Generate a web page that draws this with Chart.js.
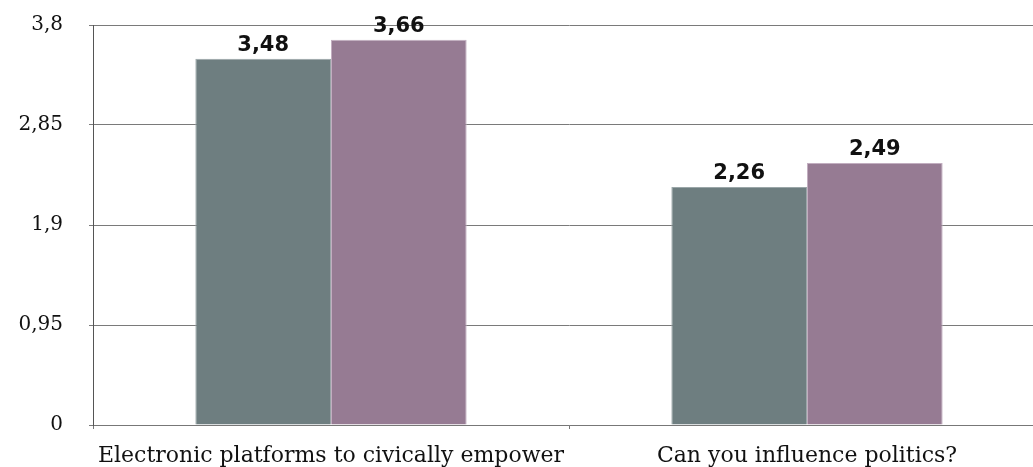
<!DOCTYPE html>
<html>
<head>
<meta charset="utf-8">
<script src="https://cdn.jsdelivr.net/npm/chart.js@4"></script>
<style>
	html, body { margin: 0; padding: 0; background: #fff; overflow: hidden; }
	#wrap { width: 1045px; height: 467px; }
</style>
</head>
<body>
<div id="wrap"><canvas id="bar"></canvas></div>
<script>
const categories = ["Electronic platforms to civically empower", "Can you influence politics?"];
const seriesA = [3.48, 2.26];
const seriesB = [3.66, 2.49];
const yTicks = [0, 0.95, 1.9, 2.85, 3.8];

const comma = (v) => String(v).replace(".", ",");

// value labels above each bar
const barLabels = {
	id: "barLabels",
	afterDatasetsDraw(chart) {
		const c = chart.ctx;
		c.save();
		c.font = "bold 21px 'DejaVu Sans'";
		c.fillStyle = "#111";
		c.textAlign = "center";
		c.textBaseline = "bottom";
		chart.data.datasets.forEach((ds, i) => {
			chart.getDatasetMeta(i).data.forEach((el, j) => {
				c.fillText(comma(ds.data[j]), el.x, el.y - 3);
			});
		});
		c.restore();
	},
};

const ctx2 = document.getElementById("bar").getContext("2d");
const bar = new Chart(ctx2, {
	type: "bar",
	data: {
		labels: categories,
		datasets: [
			{
				data: seriesA,
				backgroundColor: "#6e7e80",
				borderColor: "#9aa6a8",
				borderWidth: 1,
			},
			{
				data: seriesB,
				backgroundColor: "#967b93",
				borderColor: "#c2aec0",
				borderWidth: 1,
			},
		],
	},
	options: {
		responsive: true,
		maintainAspectRatio: false,
		animation: false,
		layout: { padding: { top: 25, right: 0, bottom: 0, left: 0 } },
		plugins: {
			legend: { display: false },
			tooltip: { enabled: false },
		},
		datasets: {
			bar: { categoryPercentage: 0.57, barPercentage: 1 },
		},
		scales: {
			x: {
				grid: { offset: true, drawOnChartArea: false, drawTicks: true, tickLength: 4, color: "#777" },
				border: { color: "#777" },
				ticks: {
					color: "#111",
					font: { family: "'DejaVu Serif'", size: 22 },
					padding: 14,
					maxRotation: 0,
					autoSkip: false,
				},
				afterFit(s) { s.height = 42; },
			},
			y: {
				min: 0,
				max: 3.8,
				afterBuildTicks(s) { s.ticks = yTicks.map((v) => ({ value: v })); },
				grid: { color: "#7a7a7a", tickLength: 4 },
				border: { color: "#555" },
				ticks: {
					color: "#111",
					font: { family: "'DejaVu Serif'", size: 20 },
					padding: 26,
					callback: (v) => comma(v),
				},
				afterFit(s) {
					s.width = 93;
					s.paddingTop = 0;
					s.paddingBottom = 0;
				},
			},
		},
	},
	plugins: [barLabels],
});
</script>
</body>
</html>
